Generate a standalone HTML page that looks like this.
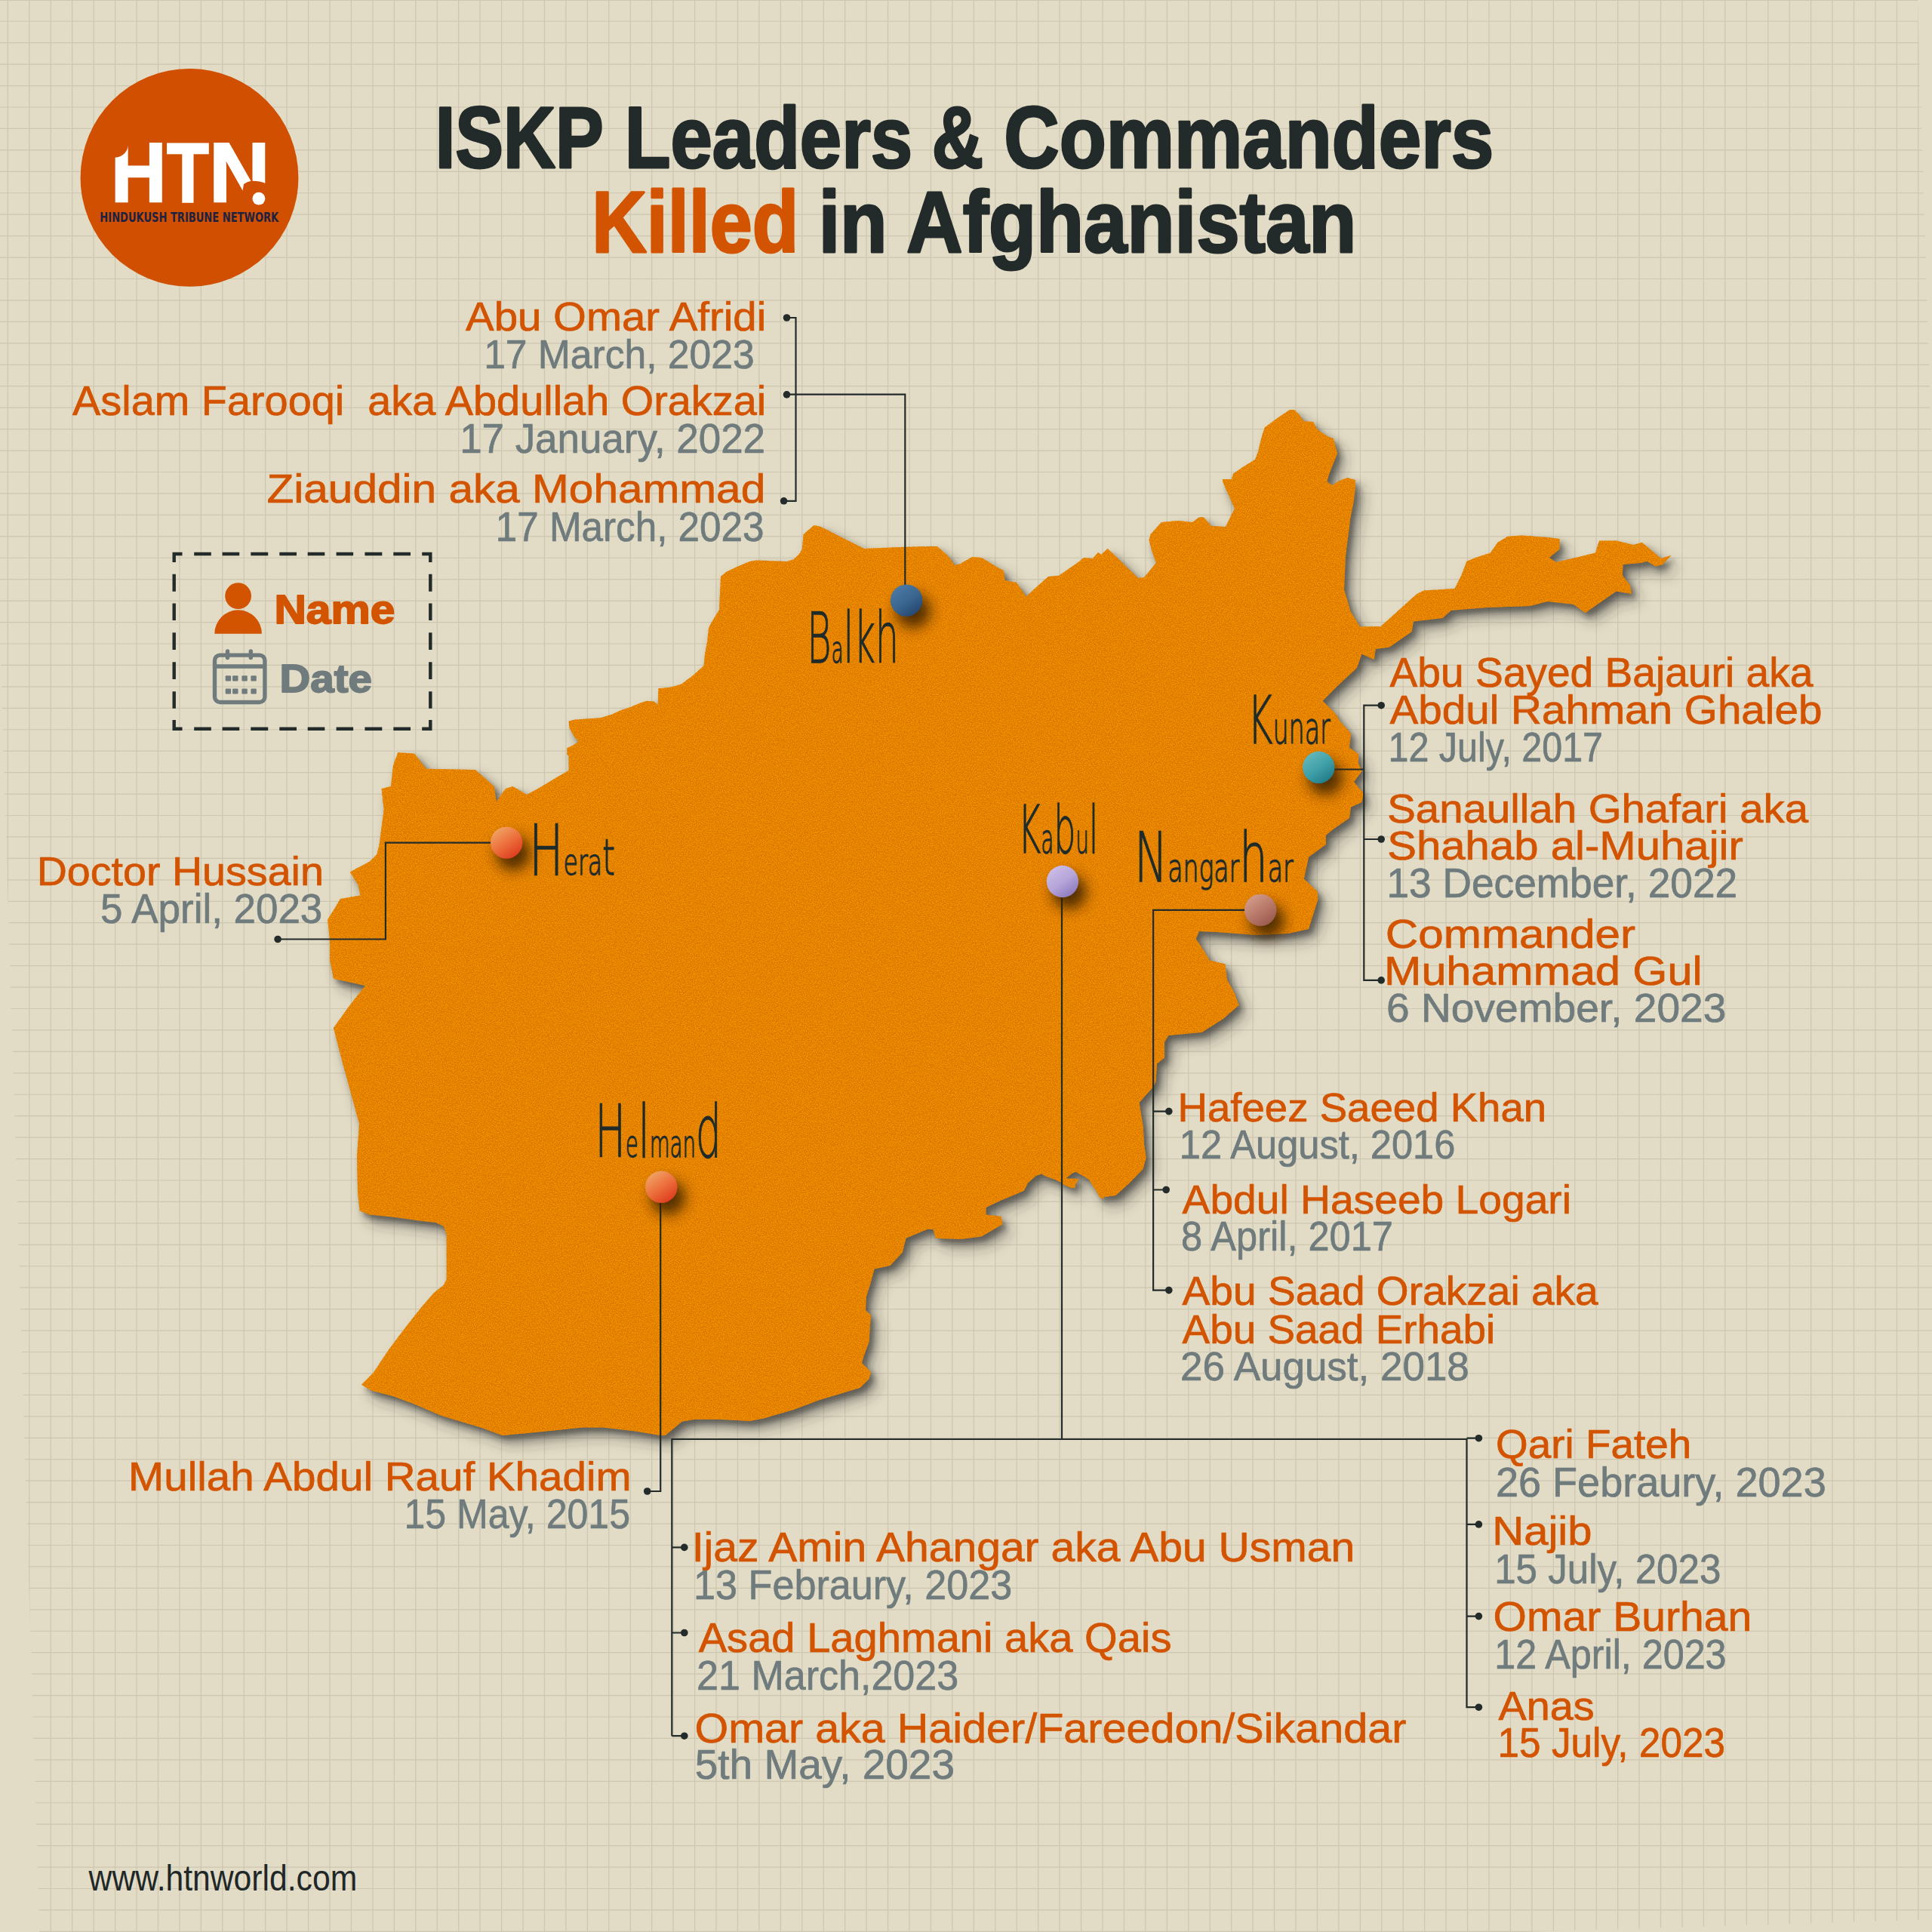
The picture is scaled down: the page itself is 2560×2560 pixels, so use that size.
<!DOCTYPE html>
<html><head><meta charset="utf-8"><title>ISKP Leaders &amp; Commanders Killed in Afghanistan</title>
<style>
html,body{margin:0;padding:0;background:#e2dbc5;}
body{width:2560px;height:2560px;overflow:hidden;}
svg{display:block;}
text{white-space:pre;}
</style></head><body>
<svg width="2560" height="2560" viewBox="0 0 2560 2560">
<defs>
<filter id="mapshadow" x="-5%" y="-5%" width="115%" height="115%">
  <feGaussianBlur stdDeviation="9"/>
</filter>
<filter id="mapshadow2" x="-5%" y="-5%" width="115%" height="115%">
  <feGaussianBlur stdDeviation="3.5"/>
</filter>
<filter id="pinshadow" x="-100%" y="-100%" width="300%" height="300%">
  <feGaussianBlur stdDeviation="9"/>
</filter>
<filter id="tex" x="0" y="0" width="100%" height="100%" filterUnits="objectBoundingBox" color-interpolation-filters="sRGB">
  <feTurbulence type="fractalNoise" baseFrequency="0.7" numOctaves="2" seed="7" result="n"/>
  <feColorMatrix in="n" type="matrix" values="0 0 0 0 0.85  0 0 0 0 0.475  0 0 0 0 0.0  5 0 0 0 -2.0" result="sp"/>
  <feComposite in="sp" in2="SourceGraphic" operator="in" result="sp2"/>
  <feMerge><feMergeNode in="SourceGraphic"/><feMergeNode in="sp2"/></feMerge>
</filter>

<linearGradient id="g_balkh" x1="0.2" y1="0.1" x2="0.8" y2="0.95"><stop offset="0" stop-color="#4a78a3"/><stop offset="0.5" stop-color="#3a6690"/><stop offset="1" stop-color="#25466f"/></linearGradient>
<linearGradient id="g_herat" x1="0.2" y1="0.1" x2="0.8" y2="0.95"><stop offset="0" stop-color="#f0a062"/><stop offset="0.5" stop-color="#ec6e3c"/><stop offset="1" stop-color="#dc3a1c"/></linearGradient>
<linearGradient id="g_kabul" x1="0.2" y1="0.1" x2="0.8" y2="0.95"><stop offset="0" stop-color="#cabbe6"/><stop offset="0.5" stop-color="#b5a5d9"/><stop offset="1" stop-color="#8c78bd"/></linearGradient>
<linearGradient id="g_nang" x1="0.2" y1="0.1" x2="0.8" y2="0.95"><stop offset="0" stop-color="#d09a86"/><stop offset="0.5" stop-color="#b9796a"/><stop offset="1" stop-color="#985a4e"/></linearGradient>
<linearGradient id="g_kunar" x1="0.2" y1="0.1" x2="0.8" y2="0.95"><stop offset="0" stop-color="#62b6b8"/><stop offset="0.5" stop-color="#40a0a8"/><stop offset="1" stop-color="#1f7a88"/></linearGradient>
<linearGradient id="g_helmand" x1="0.2" y1="0.1" x2="0.8" y2="0.95"><stop offset="0" stop-color="#f0a062"/><stop offset="0.5" stop-color="#ec6e3c"/><stop offset="1" stop-color="#dc3a1c"/></linearGradient>
</defs>
<rect x="0" y="0" width="2560" height="2560" fill="#e2dbc5"/>
<clipPath id="paper"><polygon points="-27.6,-60 2539.1,-60 2619.8,2542 54.1,2618.9"/></clipPath>
<path d="M10.35,0V2560 M38.79,0V2560 M67.24,0V2560 M95.68,0V2560 M124.13,0V2560 M152.57,0V2560 M181.01,0V2560 M209.46,0V2560 M237.90,0V2560 M266.35,0V2560 M294.79,0V2560 M323.23,0V2560 M351.68,0V2560 M380.12,0V2560 M408.57,0V2560 M437.01,0V2560 M465.45,0V2560 M493.90,0V2560 M522.34,0V2560 M550.79,0V2560 M579.23,0V2560 M607.67,0V2560 M636.12,0V2560 M664.56,0V2560 M693.01,0V2560 M721.45,0V2560 M749.89,0V2560 M778.34,0V2560 M806.78,0V2560 M835.23,0V2560 M863.67,0V2560 M892.11,0V2560 M920.56,0V2560 M949.00,0V2560 M977.45,0V2560 M1005.89,0V2560 M1034.33,0V2560 M1062.78,0V2560 M1091.22,0V2560 M1119.67,0V2560 M1148.11,0V2560 M1176.55,0V2560 M1205.00,0V2560 M1233.44,0V2560 M1261.89,0V2560 M1290.33,0V2560 M1318.77,0V2560 M1347.22,0V2560 M1375.66,0V2560 M1404.11,0V2560 M1432.55,0V2560 M1460.99,0V2560 M1489.44,0V2560 M1517.88,0V2560 M1546.33,0V2560 M1574.77,0V2560 M1603.21,0V2560 M1631.66,0V2560 M1660.10,0V2560 M1688.55,0V2560 M1716.99,0V2560 M1745.43,0V2560 M1773.88,0V2560 M1802.32,0V2560 M1830.77,0V2560 M1859.21,0V2560 M1887.65,0V2560 M1916.10,0V2560 M1944.54,0V2560 M1972.99,0V2560 M2001.43,0V2560 M2029.87,0V2560 M2058.32,0V2560 M2086.76,0V2560 M2115.21,0V2560 M2143.65,0V2560 M2172.09,0V2560 M2200.54,0V2560 M2228.98,0V2560 M2257.43,0V2560 M2285.87,0V2560 M2314.31,0V2560 M2342.76,0V2560 M2371.20,0V2560 M2399.65,0V2560 M2428.09,0V2560 M2456.53,0V2560 M2484.98,0V2560 M2513.42,0V2560 M2541.87,0V2560 M0,0.30H2560 M0,28.24H2560 M0,56.68H2560 M0,85.12H2560 M0,113.56H2560 M0,142.00H2560 M0,170.44H2560 M0,198.88H2560 M0,227.32H2560 M0,255.76H2560 M0,284.20H2560 M0,312.64H2560 M0,341.08H2560 M0,369.52H2560 M0,397.96H2560 M0,426.40H2560 M0,454.84H2560 M0,483.28H2560 M0,511.72H2560 M0,540.16H2560 M0,568.60H2560 M0,597.04H2560 M0,625.48H2560 M0,653.92H2560 M0,682.36H2560 M0,710.80H2560 M0,739.24H2560 M0,767.68H2560 M0,796.12H2560 M0,824.56H2560 M0,853.00H2560 M0,881.44H2560 M0,909.88H2560 M0,938.32H2560 M0,966.76H2560 M0,995.20H2560 M0,1023.64H2560 M0,1052.08H2560 M0,1080.52H2560 M0,1108.96H2560 M0,1137.40H2560 M0,1165.84H2560 M0,1194.28H2560 M0,1222.72H2560 M0,1251.16H2560 M0,1279.60H2560 M0,1308.04H2560 M0,1336.48H2560 M0,1364.92H2560 M0,1393.36H2560 M0,1421.80H2560 M0,1450.24H2560 M0,1478.68H2560 M0,1507.12H2560 M0,1535.56H2560 M0,1564.00H2560 M0,1592.44H2560 M0,1620.88H2560 M0,1649.32H2560 M0,1677.76H2560 M0,1706.20H2560 M0,1734.64H2560 M0,1763.08H2560 M0,1791.52H2560 M0,1819.96H2560 M0,1848.40H2560 M0,1876.84H2560 M0,1905.28H2560 M0,1933.72H2560 M0,1962.16H2560 M0,1990.60H2560 M0,2019.04H2560 M0,2047.48H2560 M0,2075.92H2560 M0,2104.36H2560 M0,2132.80H2560 M0,2161.24H2560 M0,2189.68H2560 M0,2218.12H2560 M0,2246.56H2560 M0,2275.00H2560 M0,2303.44H2560 M0,2331.88H2560 M0,2360.32H2560 M0,2388.76H2560 M0,2417.20H2560 M0,2445.64H2560 M0,2474.08H2560 M0,2502.52H2560 M0,2530.96H2560 M0,2559.40H2560" stroke="#cdc6b0" stroke-width="1.2" fill="none" clip-path="url(#paper)"/>
<path d="M479.0,1834.7 L494.7,1819.0 L515.4,1788.0 L538.7,1757.0 L559.4,1731.0 L575.0,1713.0 L587.9,1702.7 L591.7,1695.0 L591.7,1635.4 L588.0,1625.0 L577.5,1620.0 L554.0,1617.3 L528.0,1613.4 L489.5,1609.5 L476.6,1604.3 L474.0,1580.0 L473.0,1532.8 L476.0,1489.0 L466.8,1455.0 L454.0,1408.6 L442.0,1362.0 L462.0,1334.0 L484.0,1306.0 L442.0,1296.8 L437.0,1272.0 L437.0,1244.0 L434.0,1219.0 L451.0,1191.0 L477.6,1186.5 L474.5,1172.5 L463.7,1155.5 L490.0,1141.5 L499.4,1132.0 L502.5,1119.8 L507.0,1085.6 L508.7,1073.0 L505.6,1045.0 L518.0,1042.0 L521.0,1014.0 L527.3,997.0 L549.0,998.6 L564.6,1018.8 L629.8,1020.0 L654.7,1042.0 L657.8,1062.3 L670.0,1045.0 L679.5,1042.0 L698.0,1053.0 L714.5,1044.0 L736.2,1031.0 L753.6,1020.9 L753.6,1001.3 L751.4,1000.0 L751.4,991.0 L759.4,987.5 L766.7,982.5 L760.9,976.0 L754.3,964.3 L753.6,955.7 L762.3,953.5 L795.7,951.3 L810.0,947.0 L823.0,941.0 L836.0,936.8 L847.8,931.7 L856.5,928.8 L866.7,929.6 L871.7,934.0 L872.5,912.2 L888.4,910.7 L902.9,906.4 L918.6,894.7 L932.6,882.0 L934.0,867.0 L937.0,851.0 L939.0,832.5 L942.0,826.0 L953.0,808.0 L955.0,764.0 L962.0,758.0 L974.5,752.0 L993.0,744.0 L1002.5,742.5 L1043.0,744.0 L1052.0,741.0 L1060.0,733.0 L1063.0,727.0 L1064.6,708.0 L1078.6,696.0 L1086.0,697.5 L1095.7,702.0 L1117.0,713.0 L1133.0,721.0 L1145.0,727.0 L1192.0,725.0 L1231.0,724.0 L1241.6,724.0 L1255.6,736.0 L1265.0,749.0 L1272.7,747.0 L1288.0,738.0 L1300.6,739.0 L1322.0,752.0 L1330.0,756.0 L1331.7,769.0 L1347.0,772.0 L1359.6,790.6 L1375.0,776.6 L1389.0,764.0 L1403.0,762.7 L1428.0,745.6 L1436.0,739.0 L1448.0,740.0 L1455.0,732.0 L1459.0,735.0 L1467.6,727.0 L1474.0,733.0 L1508.0,766.0 L1516.0,765.0 L1532.0,745.7 L1526.6,731.0 L1522.5,715.7 L1524.5,708.0 L1539.0,692.0 L1561.0,690.0 L1580.0,692.0 L1588.7,685.6 L1595.0,685.6 L1605.0,697.0 L1624.0,698.0 L1632.0,681.5 L1636.0,674.0 L1632.0,665.0 L1620.0,638.0 L1620.0,635.0 L1632.0,635.0 L1634.0,627.7 L1646.7,619.0 L1663.0,609.0 L1667.0,598.7 L1671.5,580.0 L1675.7,566.6 L1694.0,553.0 L1709.0,543.0 L1715.0,543.0 L1721.0,549.0 L1727.4,558.0 L1740.0,559.0 L1746.0,569.7 L1760.6,579.0 L1766.8,581.0 L1772.0,600.7 L1760.6,629.7 L1758.5,638.0 L1764.7,643.0 L1775.0,637.0 L1785.4,633.0 L1795.8,636.0 L1795.8,646.0 L1793.7,665.0 L1789.5,685.6 L1783.0,737.0 L1781.0,781.0 L1789.5,810.0 L1802.0,830.6 L1829.6,830.0 L1877.4,787.0 L1886.5,782.5 L1927.5,780.0 L1936.6,762.0 L1943.5,743.8 L1955.0,739.0 L1975.0,732.4 L1984.5,718.7 L1998.0,710.7 L2016.0,709.6 L2050.5,712.0 L2066.5,714.0 L2066.5,727.8 L2052.8,739.0 L2062.0,745.0 L2096.0,737.0 L2114.0,732.4 L2119.0,716.4 L2141.6,716.4 L2164.4,722.0 L2175.8,718.7 L2200.8,740.0 L2214.5,735.8 L2203.0,748.0 L2194.0,750.6 L2182.6,743.8 L2173.5,746.0 L2150.7,748.0 L2149.6,762.0 L2159.8,775.6 L2162.0,787.0 L2141.6,783.6 L2100.6,812.0 L2084.7,800.7 L2050.5,797.0 L2027.7,803.0 L1970.8,805.0 L1923.0,808.7 L1911.6,819.0 L1872.9,823.5 L1870.6,837.0 L1841.0,857.6 L1822.8,860.0 L1820.6,874.0 L1804.4,866.6 L1798.0,885.0 L1769.0,912.0 L1752.6,928.7 L1769.0,945.0 L1775.4,955.6 L1790.0,972.0 L1788.0,990.8 L1800.0,999.0 L1800.0,1011.5 L1804.4,1022.0 L1794.0,1036.0 L1806.5,1051.0 L1804.4,1063.0 L1790.0,1069.5 L1788.0,1084.0 L1767.0,1098.5 L1756.8,1106.8 L1756.8,1119.0 L1734.0,1135.8 L1727.8,1164.8 L1745.4,1181.0 L1746.4,1191.7 L1738.0,1218.6 L1734.0,1231.0 L1707.0,1237.0 L1665.7,1239.0 L1611.8,1235.0 L1589.0,1234.0 L1584.6,1244.0 L1595.0,1259.5 L1602.7,1272.4 L1623.4,1277.6 L1626.0,1298.0 L1636.0,1316.4 L1641.5,1332.0 L1620.8,1350.0 L1592.4,1368.0 L1548.4,1372.0 L1543.0,1381.0 L1543.0,1401.8 L1533.0,1409.6 L1531.6,1432.9 L1527.7,1440.6 L1509.6,1461.0 L1514.7,1492.4 L1516.0,1515.7 L1518.6,1533.8 L1514.7,1549.0 L1496.6,1567.4 L1478.5,1584.0 L1462.8,1586.0 L1461.8,1588.5 L1457.6,1587.0 L1453.5,1579.7 L1448.3,1571.4 L1443.1,1563.1 L1436.9,1559.0 L1431.2,1556.0 L1425.5,1552.8 L1420.4,1554.8 L1417.3,1557.4 L1413.1,1560.5 L1413.1,1561.6 L1428.7,1562.1 L1428.7,1563.6 L1425.0,1569.3 L1424.5,1574.0 L1419.3,1574.0 L1412.1,1571.0 L1409.0,1569.3 L1405.9,1566.7 L1398.1,1563.1 L1386.2,1559.0 L1380.0,1555.4 L1372.4,1558.3 L1362.0,1567.4 L1357.0,1577.7 L1338.8,1585.5 L1326.0,1590.7 L1306.5,1600.0 L1306.5,1609.4 L1326.3,1611.7 L1328.6,1622.0 L1300.6,1638.5 L1272.7,1642.0 L1240.0,1640.8 L1236.6,1629.0 L1228.4,1629.0 L1200.5,1640.8 L1195.8,1659.5 L1179.5,1677.0 L1158.6,1681.6 L1154.0,1699.0 L1148.0,1717.7 L1147.0,1736.0 L1154.0,1743.0 L1152.7,1759.6 L1151.6,1778.0 L1144.6,1797.0 L1142.0,1806.0 L1154.0,1818.0 L1151.6,1827.0 L1140.0,1838.8 L1109.6,1848.0 L1086.0,1855.0 L1051.4,1868.0 L1011.8,1879.6 L993.0,1883.0 L953.6,1880.8 L921.0,1880.8 L903.6,1883.8 L881.6,1902.0 L875.0,1902.0 L844.0,1896.8 L800.0,1891.6 L771.6,1891.6 L745.7,1894.2 L699.0,1899.0 L665.5,1902.0 L637.0,1891.6 L611.0,1883.8 L585.0,1876.0 L549.0,1860.6 L520.6,1850.0 L492.0,1842.4 Z" fill="#2e2e2a" fill-opacity="0.45" transform="translate(10,12)" filter="url(#mapshadow)"/>
<path d="M479.0,1834.7 L494.7,1819.0 L515.4,1788.0 L538.7,1757.0 L559.4,1731.0 L575.0,1713.0 L587.9,1702.7 L591.7,1695.0 L591.7,1635.4 L588.0,1625.0 L577.5,1620.0 L554.0,1617.3 L528.0,1613.4 L489.5,1609.5 L476.6,1604.3 L474.0,1580.0 L473.0,1532.8 L476.0,1489.0 L466.8,1455.0 L454.0,1408.6 L442.0,1362.0 L462.0,1334.0 L484.0,1306.0 L442.0,1296.8 L437.0,1272.0 L437.0,1244.0 L434.0,1219.0 L451.0,1191.0 L477.6,1186.5 L474.5,1172.5 L463.7,1155.5 L490.0,1141.5 L499.4,1132.0 L502.5,1119.8 L507.0,1085.6 L508.7,1073.0 L505.6,1045.0 L518.0,1042.0 L521.0,1014.0 L527.3,997.0 L549.0,998.6 L564.6,1018.8 L629.8,1020.0 L654.7,1042.0 L657.8,1062.3 L670.0,1045.0 L679.5,1042.0 L698.0,1053.0 L714.5,1044.0 L736.2,1031.0 L753.6,1020.9 L753.6,1001.3 L751.4,1000.0 L751.4,991.0 L759.4,987.5 L766.7,982.5 L760.9,976.0 L754.3,964.3 L753.6,955.7 L762.3,953.5 L795.7,951.3 L810.0,947.0 L823.0,941.0 L836.0,936.8 L847.8,931.7 L856.5,928.8 L866.7,929.6 L871.7,934.0 L872.5,912.2 L888.4,910.7 L902.9,906.4 L918.6,894.7 L932.6,882.0 L934.0,867.0 L937.0,851.0 L939.0,832.5 L942.0,826.0 L953.0,808.0 L955.0,764.0 L962.0,758.0 L974.5,752.0 L993.0,744.0 L1002.5,742.5 L1043.0,744.0 L1052.0,741.0 L1060.0,733.0 L1063.0,727.0 L1064.6,708.0 L1078.6,696.0 L1086.0,697.5 L1095.7,702.0 L1117.0,713.0 L1133.0,721.0 L1145.0,727.0 L1192.0,725.0 L1231.0,724.0 L1241.6,724.0 L1255.6,736.0 L1265.0,749.0 L1272.7,747.0 L1288.0,738.0 L1300.6,739.0 L1322.0,752.0 L1330.0,756.0 L1331.7,769.0 L1347.0,772.0 L1359.6,790.6 L1375.0,776.6 L1389.0,764.0 L1403.0,762.7 L1428.0,745.6 L1436.0,739.0 L1448.0,740.0 L1455.0,732.0 L1459.0,735.0 L1467.6,727.0 L1474.0,733.0 L1508.0,766.0 L1516.0,765.0 L1532.0,745.7 L1526.6,731.0 L1522.5,715.7 L1524.5,708.0 L1539.0,692.0 L1561.0,690.0 L1580.0,692.0 L1588.7,685.6 L1595.0,685.6 L1605.0,697.0 L1624.0,698.0 L1632.0,681.5 L1636.0,674.0 L1632.0,665.0 L1620.0,638.0 L1620.0,635.0 L1632.0,635.0 L1634.0,627.7 L1646.7,619.0 L1663.0,609.0 L1667.0,598.7 L1671.5,580.0 L1675.7,566.6 L1694.0,553.0 L1709.0,543.0 L1715.0,543.0 L1721.0,549.0 L1727.4,558.0 L1740.0,559.0 L1746.0,569.7 L1760.6,579.0 L1766.8,581.0 L1772.0,600.7 L1760.6,629.7 L1758.5,638.0 L1764.7,643.0 L1775.0,637.0 L1785.4,633.0 L1795.8,636.0 L1795.8,646.0 L1793.7,665.0 L1789.5,685.6 L1783.0,737.0 L1781.0,781.0 L1789.5,810.0 L1802.0,830.6 L1829.6,830.0 L1877.4,787.0 L1886.5,782.5 L1927.5,780.0 L1936.6,762.0 L1943.5,743.8 L1955.0,739.0 L1975.0,732.4 L1984.5,718.7 L1998.0,710.7 L2016.0,709.6 L2050.5,712.0 L2066.5,714.0 L2066.5,727.8 L2052.8,739.0 L2062.0,745.0 L2096.0,737.0 L2114.0,732.4 L2119.0,716.4 L2141.6,716.4 L2164.4,722.0 L2175.8,718.7 L2200.8,740.0 L2214.5,735.8 L2203.0,748.0 L2194.0,750.6 L2182.6,743.8 L2173.5,746.0 L2150.7,748.0 L2149.6,762.0 L2159.8,775.6 L2162.0,787.0 L2141.6,783.6 L2100.6,812.0 L2084.7,800.7 L2050.5,797.0 L2027.7,803.0 L1970.8,805.0 L1923.0,808.7 L1911.6,819.0 L1872.9,823.5 L1870.6,837.0 L1841.0,857.6 L1822.8,860.0 L1820.6,874.0 L1804.4,866.6 L1798.0,885.0 L1769.0,912.0 L1752.6,928.7 L1769.0,945.0 L1775.4,955.6 L1790.0,972.0 L1788.0,990.8 L1800.0,999.0 L1800.0,1011.5 L1804.4,1022.0 L1794.0,1036.0 L1806.5,1051.0 L1804.4,1063.0 L1790.0,1069.5 L1788.0,1084.0 L1767.0,1098.5 L1756.8,1106.8 L1756.8,1119.0 L1734.0,1135.8 L1727.8,1164.8 L1745.4,1181.0 L1746.4,1191.7 L1738.0,1218.6 L1734.0,1231.0 L1707.0,1237.0 L1665.7,1239.0 L1611.8,1235.0 L1589.0,1234.0 L1584.6,1244.0 L1595.0,1259.5 L1602.7,1272.4 L1623.4,1277.6 L1626.0,1298.0 L1636.0,1316.4 L1641.5,1332.0 L1620.8,1350.0 L1592.4,1368.0 L1548.4,1372.0 L1543.0,1381.0 L1543.0,1401.8 L1533.0,1409.6 L1531.6,1432.9 L1527.7,1440.6 L1509.6,1461.0 L1514.7,1492.4 L1516.0,1515.7 L1518.6,1533.8 L1514.7,1549.0 L1496.6,1567.4 L1478.5,1584.0 L1462.8,1586.0 L1461.8,1588.5 L1457.6,1587.0 L1453.5,1579.7 L1448.3,1571.4 L1443.1,1563.1 L1436.9,1559.0 L1431.2,1556.0 L1425.5,1552.8 L1420.4,1554.8 L1417.3,1557.4 L1413.1,1560.5 L1413.1,1561.6 L1428.7,1562.1 L1428.7,1563.6 L1425.0,1569.3 L1424.5,1574.0 L1419.3,1574.0 L1412.1,1571.0 L1409.0,1569.3 L1405.9,1566.7 L1398.1,1563.1 L1386.2,1559.0 L1380.0,1555.4 L1372.4,1558.3 L1362.0,1567.4 L1357.0,1577.7 L1338.8,1585.5 L1326.0,1590.7 L1306.5,1600.0 L1306.5,1609.4 L1326.3,1611.7 L1328.6,1622.0 L1300.6,1638.5 L1272.7,1642.0 L1240.0,1640.8 L1236.6,1629.0 L1228.4,1629.0 L1200.5,1640.8 L1195.8,1659.5 L1179.5,1677.0 L1158.6,1681.6 L1154.0,1699.0 L1148.0,1717.7 L1147.0,1736.0 L1154.0,1743.0 L1152.7,1759.6 L1151.6,1778.0 L1144.6,1797.0 L1142.0,1806.0 L1154.0,1818.0 L1151.6,1827.0 L1140.0,1838.8 L1109.6,1848.0 L1086.0,1855.0 L1051.4,1868.0 L1011.8,1879.6 L993.0,1883.0 L953.6,1880.8 L921.0,1880.8 L903.6,1883.8 L881.6,1902.0 L875.0,1902.0 L844.0,1896.8 L800.0,1891.6 L771.6,1891.6 L745.7,1894.2 L699.0,1899.0 L665.5,1902.0 L637.0,1891.6 L611.0,1883.8 L585.0,1876.0 L549.0,1860.6 L520.6,1850.0 L492.0,1842.4 Z" fill="#2e2e2a" fill-opacity="0.5" transform="translate(5,6)" filter="url(#mapshadow2)"/>
<path d="M479.0,1834.7 L494.7,1819.0 L515.4,1788.0 L538.7,1757.0 L559.4,1731.0 L575.0,1713.0 L587.9,1702.7 L591.7,1695.0 L591.7,1635.4 L588.0,1625.0 L577.5,1620.0 L554.0,1617.3 L528.0,1613.4 L489.5,1609.5 L476.6,1604.3 L474.0,1580.0 L473.0,1532.8 L476.0,1489.0 L466.8,1455.0 L454.0,1408.6 L442.0,1362.0 L462.0,1334.0 L484.0,1306.0 L442.0,1296.8 L437.0,1272.0 L437.0,1244.0 L434.0,1219.0 L451.0,1191.0 L477.6,1186.5 L474.5,1172.5 L463.7,1155.5 L490.0,1141.5 L499.4,1132.0 L502.5,1119.8 L507.0,1085.6 L508.7,1073.0 L505.6,1045.0 L518.0,1042.0 L521.0,1014.0 L527.3,997.0 L549.0,998.6 L564.6,1018.8 L629.8,1020.0 L654.7,1042.0 L657.8,1062.3 L670.0,1045.0 L679.5,1042.0 L698.0,1053.0 L714.5,1044.0 L736.2,1031.0 L753.6,1020.9 L753.6,1001.3 L751.4,1000.0 L751.4,991.0 L759.4,987.5 L766.7,982.5 L760.9,976.0 L754.3,964.3 L753.6,955.7 L762.3,953.5 L795.7,951.3 L810.0,947.0 L823.0,941.0 L836.0,936.8 L847.8,931.7 L856.5,928.8 L866.7,929.6 L871.7,934.0 L872.5,912.2 L888.4,910.7 L902.9,906.4 L918.6,894.7 L932.6,882.0 L934.0,867.0 L937.0,851.0 L939.0,832.5 L942.0,826.0 L953.0,808.0 L955.0,764.0 L962.0,758.0 L974.5,752.0 L993.0,744.0 L1002.5,742.5 L1043.0,744.0 L1052.0,741.0 L1060.0,733.0 L1063.0,727.0 L1064.6,708.0 L1078.6,696.0 L1086.0,697.5 L1095.7,702.0 L1117.0,713.0 L1133.0,721.0 L1145.0,727.0 L1192.0,725.0 L1231.0,724.0 L1241.6,724.0 L1255.6,736.0 L1265.0,749.0 L1272.7,747.0 L1288.0,738.0 L1300.6,739.0 L1322.0,752.0 L1330.0,756.0 L1331.7,769.0 L1347.0,772.0 L1359.6,790.6 L1375.0,776.6 L1389.0,764.0 L1403.0,762.7 L1428.0,745.6 L1436.0,739.0 L1448.0,740.0 L1455.0,732.0 L1459.0,735.0 L1467.6,727.0 L1474.0,733.0 L1508.0,766.0 L1516.0,765.0 L1532.0,745.7 L1526.6,731.0 L1522.5,715.7 L1524.5,708.0 L1539.0,692.0 L1561.0,690.0 L1580.0,692.0 L1588.7,685.6 L1595.0,685.6 L1605.0,697.0 L1624.0,698.0 L1632.0,681.5 L1636.0,674.0 L1632.0,665.0 L1620.0,638.0 L1620.0,635.0 L1632.0,635.0 L1634.0,627.7 L1646.7,619.0 L1663.0,609.0 L1667.0,598.7 L1671.5,580.0 L1675.7,566.6 L1694.0,553.0 L1709.0,543.0 L1715.0,543.0 L1721.0,549.0 L1727.4,558.0 L1740.0,559.0 L1746.0,569.7 L1760.6,579.0 L1766.8,581.0 L1772.0,600.7 L1760.6,629.7 L1758.5,638.0 L1764.7,643.0 L1775.0,637.0 L1785.4,633.0 L1795.8,636.0 L1795.8,646.0 L1793.7,665.0 L1789.5,685.6 L1783.0,737.0 L1781.0,781.0 L1789.5,810.0 L1802.0,830.6 L1829.6,830.0 L1877.4,787.0 L1886.5,782.5 L1927.5,780.0 L1936.6,762.0 L1943.5,743.8 L1955.0,739.0 L1975.0,732.4 L1984.5,718.7 L1998.0,710.7 L2016.0,709.6 L2050.5,712.0 L2066.5,714.0 L2066.5,727.8 L2052.8,739.0 L2062.0,745.0 L2096.0,737.0 L2114.0,732.4 L2119.0,716.4 L2141.6,716.4 L2164.4,722.0 L2175.8,718.7 L2200.8,740.0 L2214.5,735.8 L2203.0,748.0 L2194.0,750.6 L2182.6,743.8 L2173.5,746.0 L2150.7,748.0 L2149.6,762.0 L2159.8,775.6 L2162.0,787.0 L2141.6,783.6 L2100.6,812.0 L2084.7,800.7 L2050.5,797.0 L2027.7,803.0 L1970.8,805.0 L1923.0,808.7 L1911.6,819.0 L1872.9,823.5 L1870.6,837.0 L1841.0,857.6 L1822.8,860.0 L1820.6,874.0 L1804.4,866.6 L1798.0,885.0 L1769.0,912.0 L1752.6,928.7 L1769.0,945.0 L1775.4,955.6 L1790.0,972.0 L1788.0,990.8 L1800.0,999.0 L1800.0,1011.5 L1804.4,1022.0 L1794.0,1036.0 L1806.5,1051.0 L1804.4,1063.0 L1790.0,1069.5 L1788.0,1084.0 L1767.0,1098.5 L1756.8,1106.8 L1756.8,1119.0 L1734.0,1135.8 L1727.8,1164.8 L1745.4,1181.0 L1746.4,1191.7 L1738.0,1218.6 L1734.0,1231.0 L1707.0,1237.0 L1665.7,1239.0 L1611.8,1235.0 L1589.0,1234.0 L1584.6,1244.0 L1595.0,1259.5 L1602.7,1272.4 L1623.4,1277.6 L1626.0,1298.0 L1636.0,1316.4 L1641.5,1332.0 L1620.8,1350.0 L1592.4,1368.0 L1548.4,1372.0 L1543.0,1381.0 L1543.0,1401.8 L1533.0,1409.6 L1531.6,1432.9 L1527.7,1440.6 L1509.6,1461.0 L1514.7,1492.4 L1516.0,1515.7 L1518.6,1533.8 L1514.7,1549.0 L1496.6,1567.4 L1478.5,1584.0 L1462.8,1586.0 L1461.8,1588.5 L1457.6,1587.0 L1453.5,1579.7 L1448.3,1571.4 L1443.1,1563.1 L1436.9,1559.0 L1431.2,1556.0 L1425.5,1552.8 L1420.4,1554.8 L1417.3,1557.4 L1413.1,1560.5 L1413.1,1561.6 L1428.7,1562.1 L1428.7,1563.6 L1425.0,1569.3 L1424.5,1574.0 L1419.3,1574.0 L1412.1,1571.0 L1409.0,1569.3 L1405.9,1566.7 L1398.1,1563.1 L1386.2,1559.0 L1380.0,1555.4 L1372.4,1558.3 L1362.0,1567.4 L1357.0,1577.7 L1338.8,1585.5 L1326.0,1590.7 L1306.5,1600.0 L1306.5,1609.4 L1326.3,1611.7 L1328.6,1622.0 L1300.6,1638.5 L1272.7,1642.0 L1240.0,1640.8 L1236.6,1629.0 L1228.4,1629.0 L1200.5,1640.8 L1195.8,1659.5 L1179.5,1677.0 L1158.6,1681.6 L1154.0,1699.0 L1148.0,1717.7 L1147.0,1736.0 L1154.0,1743.0 L1152.7,1759.6 L1151.6,1778.0 L1144.6,1797.0 L1142.0,1806.0 L1154.0,1818.0 L1151.6,1827.0 L1140.0,1838.8 L1109.6,1848.0 L1086.0,1855.0 L1051.4,1868.0 L1011.8,1879.6 L993.0,1883.0 L953.6,1880.8 L921.0,1880.8 L903.6,1883.8 L881.6,1902.0 L875.0,1902.0 L844.0,1896.8 L800.0,1891.6 L771.6,1891.6 L745.7,1894.2 L699.0,1899.0 L665.5,1902.0 L637.0,1891.6 L611.0,1883.8 L585.0,1876.0 L549.0,1860.6 L520.6,1850.0 L492.0,1842.4 Z" fill="#f28e00" filter="url(#tex)"/>
<path d="M1042.5,421 H1054.5 V663.8 H1038.6 M1042.5,522.7 H1199.3 V790 M368.1,1244.5 H510.9 V1116.6 H671 M1747,1019.5 H1807.3 M1830.2,934.7 H1807.3 V1298.9 H1830.2 M1807.3,1112 H1830.2 M1670,1205.9 H1528.1 V1709.6 H1548.8 M1528.1,1472.6 H1548.8 M1528.1,1576.5 H1545.2 M1407,1168 V1906.5 M890.3,2300.2 V1907 H1943.5 V2262.2 H1959.4 M1943.5,1905.7 H1959.4 M1943.5,2019.9 H1959.4 M1943.5,2141.6 H1959.4 M890.3,2050.4 H906.8 M890.3,2163.5 H906.8 M890.3,2300.2 H906.8 M875.2,1572.8 V1976 H857.7" stroke="#232b2b" stroke-width="2.2" fill="none" stroke-linejoin="miter" stroke-linecap="butt"/>
<g fill="#232b2b"><circle cx="1042.5" cy="421" r="4.8"/><circle cx="1042.5" cy="522.9" r="4.8"/><circle cx="1038.6" cy="663.8" r="4.8"/><circle cx="368.1" cy="1244.5" r="4.8"/><circle cx="1830.2" cy="934.7" r="4.8"/><circle cx="1830.2" cy="1112" r="4.8"/><circle cx="1830.2" cy="1298.9" r="4.8"/><circle cx="1548.8" cy="1472.6" r="4.8"/><circle cx="1545.2" cy="1576.5" r="4.8"/><circle cx="1548.8" cy="1709.6" r="4.8"/><circle cx="1959.4" cy="1905.7" r="4.8"/><circle cx="1959.4" cy="2019.9" r="4.8"/><circle cx="1959.4" cy="2141.6" r="4.8"/><circle cx="1959.4" cy="2262.2" r="4.8"/><circle cx="906.8" cy="2050.4" r="4.8"/><circle cx="906.8" cy="2163.5" r="4.8"/><circle cx="906.8" cy="2300.2" r="4.8"/><circle cx="857.7" cy="1976" r="4.8"/></g>
<circle cx="1210.1" cy="809.6" r="23" fill="#3a1d00" fill-opacity="0.85" filter="url(#pinshadow)"/>
<circle cx="680.2" cy="1130.6" r="23" fill="#3a1d00" fill-opacity="0.85" filter="url(#pinshadow)"/>
<circle cx="1416.9" cy="1182" r="23" fill="#3a1d00" fill-opacity="0.85" filter="url(#pinshadow)"/>
<circle cx="1679.2" cy="1219.9" r="23" fill="#3a1d00" fill-opacity="0.85" filter="url(#pinshadow)"/>
<circle cx="1756.3" cy="1030.8" r="23" fill="#3a1d00" fill-opacity="0.85" filter="url(#pinshadow)"/>
<circle cx="885.3" cy="1586.8" r="23" fill="#3a1d00" fill-opacity="0.85" filter="url(#pinshadow)"/>
<circle cx="1201.1" cy="795.6" r="21.2" fill="url(#g_balkh)"/>
<circle cx="671.2" cy="1116.6" r="21.2" fill="url(#g_herat)"/>
<circle cx="1407.9" cy="1168" r="21.2" fill="url(#g_kabul)"/>
<circle cx="1670.2" cy="1205.9" r="21.2" fill="url(#g_nang)"/>
<circle cx="1747.3" cy="1016.8" r="21.2" fill="url(#g_kunar)"/>
<circle cx="876.3" cy="1572.8" r="21.2" fill="url(#g_helmand)"/>
<path d="M230.7,745 V734 H241.5 M257.2,734 H279.8 M257.2,965.7 H279.8 M294.6,734 H317.2 M294.6,965.7 H317.2 M332.3,734 H355.2 M332.3,965.7 H355.2 M370.3,734 H393 M370.3,965.7 H393 M407.7,734 H430.3 M407.7,965.7 H430.3 M445.6,734 H468.1 M445.6,965.7 H468.1 M483.4,734 H506.3 M483.4,965.7 H506.3 M521.3,734 H544 M521.3,965.7 H544 M559.2,734 H570.3 V745 M230.7,954 V965.7 H241.5 M559.2,965.7 H570.3 V954 M230.7,760.7 V783.8 M570.3,760.7 V783.8 M230.7,799.5 V822.1 M570.3,799.5 V822.1 M230.7,838.2 V861 M570.3,838.2 V861 M230.7,877.2 V900 M570.3,877.2 V900 M230.7,916.2 V938.7 M570.3,916.2 V938.7" stroke="#232b2b" stroke-width="4.4" fill="none" stroke-linecap="butt"/>
<circle cx="315.6" cy="789.7" r="17.4" fill="#d35400"/>
<path d="M284.3,839.8 A31.3,31.5 0 0 1 346.9,839.8 Z" fill="#d35400"/>
<g stroke="#6f7b7c" fill="none" stroke-width="5.4"><rect x="284.5" y="868.1" width="66.4" height="62.4" rx="7"/><path d="M284.5,883 H350.9"/></g>
<g stroke="#6f7b7c" stroke-width="5.4" stroke-linecap="round"><path d="M301.5,863 V871.5 M332.3,863 V871.5"/></g>
<g fill="#6f7b7c"><rect x="298.7" y="895.1999999999999" width="7.4" height="7.2" rx="1"/><rect x="308.1" y="895.1999999999999" width="7.4" height="7.2" rx="1"/><rect x="320.40000000000003" y="895.1999999999999" width="7.4" height="7.2" rx="1"/><rect x="332.40000000000003" y="895.1999999999999" width="7.4" height="7.2" rx="1"/><rect x="298.7" y="912.4" width="7.4" height="7.2" rx="1"/><rect x="308.1" y="912.4" width="7.4" height="7.2" rx="1"/><rect x="320.40000000000003" y="912.4" width="7.4" height="7.2" rx="1"/><rect x="332.40000000000003" y="912.4" width="7.4" height="7.2" rx="1"/></g>
<circle cx="251" cy="235.3" r="144.4" fill="#d04f00"/>
<text x="146.88" y="267.10" font-family="'Liberation Sans', sans-serif" font-weight="700" font-size="111.19" fill="#ffffff" textLength="73.57" lengthAdjust="spacingAndGlyphs" stroke="#ffffff" stroke-width="2.4">H</text>
<text x="220.89" y="267.10" font-family="'Liberation Sans', sans-serif" font-weight="700" font-size="111.19" fill="#ffffff" textLength="55.81" lengthAdjust="spacingAndGlyphs" stroke="#ffffff" stroke-width="2.4">T</text>
<text x="277.05" y="267.10" font-family="'Liberation Sans', sans-serif" font-weight="700" font-size="111.19" fill="#ffffff" textLength="80.54" lengthAdjust="spacingAndGlyphs" stroke="#ffffff" stroke-width="2.4">N</text>
<path d="M149,186 H170.4 V189.4 Q169,207 152.3,208.8 H149 Z" fill="#d04f00"/>
<path d="M323,244 Q333,236 352,243 L352,272 L318,272 Z" fill="#d04f00"/>
<circle cx="342.9" cy="263.2" r="8.4" fill="#ffffff"/>
<text x="132.34" y="293.70" font-family="'DejaVu Sans', sans-serif" font-weight="700" font-size="17.83" fill="#1e2240" textLength="236.88" lengthAdjust="spacingAndGlyphs">HINDUKUSH TRIBUNE NETWORK</text>
<text x="576.79" y="222.10" font-family="'Liberation Sans', sans-serif" font-weight="700" font-size="114.68" fill="#222a2a" textLength="223.07" lengthAdjust="spacingAndGlyphs" stroke="#222a2a" stroke-width="3" stroke-linejoin="round">ISKP</text>
<text x="827.84" y="222.10" font-family="'Liberation Sans', sans-serif" font-weight="700" font-size="114.68" fill="#222a2a" textLength="381.29" lengthAdjust="spacingAndGlyphs" stroke="#222a2a" stroke-width="3" stroke-linejoin="round">Leaders</text>
<text x="1234.64" y="222.10" font-family="'Liberation Sans', sans-serif" font-weight="700" font-size="114.68" fill="#222a2a" textLength="68.30" lengthAdjust="spacingAndGlyphs" stroke="#222a2a" stroke-width="3" stroke-linejoin="round">&amp;</text>
<text x="1330.34" y="222.10" font-family="'Liberation Sans', sans-serif" font-weight="700" font-size="114.68" fill="#222a2a" textLength="648.79" lengthAdjust="spacingAndGlyphs" stroke="#222a2a" stroke-width="3" stroke-linejoin="round">Commanders</text>
<text x="784.15" y="333.80" font-family="'Liberation Sans', sans-serif" font-weight="700" font-size="115.41" fill="#d35400" textLength="274.16" lengthAdjust="spacingAndGlyphs" stroke="#d35400" stroke-width="3" stroke-linejoin="round">Killed</text>
<text x="1084.63" y="333.80" font-family="'Liberation Sans', sans-serif" font-weight="700" font-size="115.41" fill="#222a2a" textLength="90.97" lengthAdjust="spacingAndGlyphs" stroke="#222a2a" stroke-width="3" stroke-linejoin="round">in</text>
<text x="1201.12" y="333.80" font-family="'Liberation Sans', sans-serif" font-weight="700" font-size="115.41" fill="#222a2a" textLength="596.29" lengthAdjust="spacingAndGlyphs" stroke="#222a2a" stroke-width="3" stroke-linejoin="round">Afghanistan</text>
<text x="617.00" y="437.60" font-family="'Liberation Sans', sans-serif" font-weight="400" font-size="53.63" fill="#d35400" textLength="398.26" lengthAdjust="spacingAndGlyphs" stroke="#d35400" stroke-width="0.7">Abu Omar Afridi</text>
<text x="641.13" y="487.60" font-family="'Liberation Sans', sans-serif" font-weight="400" font-size="53.92" fill="#6f7b7c" textLength="358.48" lengthAdjust="spacingAndGlyphs" stroke="#6f7b7c" stroke-width="0.7">17 March, 2023</text>
<text x="96.10" y="549.70" font-family="'Liberation Sans', sans-serif" font-weight="400" font-size="55.96" fill="#d35400" textLength="919.11" lengthAdjust="spacingAndGlyphs" stroke="#d35400" stroke-width="0.7">Aslam Farooqi  aka Abdullah Orakzai</text>
<text x="609.13" y="599.50" font-family="'Liberation Sans', sans-serif" font-weight="400" font-size="55.23" fill="#6f7b7c" textLength="404.86" lengthAdjust="spacingAndGlyphs" stroke="#6f7b7c" stroke-width="0.7">17 January, 2022</text>
<text x="353.54" y="666.40" font-family="'Liberation Sans', sans-serif" font-weight="400" font-size="54.07" fill="#d35400" textLength="660.71" lengthAdjust="spacingAndGlyphs" stroke="#d35400" stroke-width="0.7">Ziauddin aka Mohammad</text>
<text x="656.76" y="716.50" font-family="'Liberation Sans', sans-serif" font-weight="400" font-size="55.23" fill="#6f7b7c" textLength="355.73" lengthAdjust="spacingAndGlyphs" stroke="#6f7b7c" stroke-width="0.7">17 March, 2023</text>
<text x="48.65" y="1172.60" font-family="'Liberation Sans', sans-serif" font-weight="400" font-size="54.36" fill="#d35400" textLength="380.23" lengthAdjust="spacingAndGlyphs" stroke="#d35400" stroke-width="0.7">Doctor Hussain</text>
<text x="133.08" y="1222.60" font-family="'Liberation Sans', sans-serif" font-weight="400" font-size="55.67" fill="#6f7b7c" textLength="294.22" lengthAdjust="spacingAndGlyphs" stroke="#6f7b7c" stroke-width="0.7">5 April, 2023</text>
<text x="1841.50" y="909.80" font-family="'Liberation Sans', sans-serif" font-weight="400" font-size="54.65" fill="#d35400" textLength="560.93" lengthAdjust="spacingAndGlyphs" stroke="#d35400" stroke-width="0.7">Abu Sayed Bajauri aka</text>
<text x="1841.50" y="958.60" font-family="'Liberation Sans', sans-serif" font-weight="400" font-size="53.92" fill="#d35400" textLength="572.93" lengthAdjust="spacingAndGlyphs" stroke="#d35400" stroke-width="0.7">Abdul Rahman Ghaleb</text>
<text x="1839.57" y="1008.90" font-family="'Liberation Sans', sans-serif" font-weight="400" font-size="55.67" fill="#6f7b7c" textLength="284.43" lengthAdjust="spacingAndGlyphs" stroke="#6f7b7c" stroke-width="0.7">12 July, 2017</text>
<text x="1838.26" y="1089.80" font-family="'Liberation Sans', sans-serif" font-weight="400" font-size="54.22" fill="#d35400" textLength="557.78" lengthAdjust="spacingAndGlyphs" stroke="#d35400" stroke-width="0.7">Sanaullah Ghafari aka</text>
<text x="1838.18" y="1138.60" font-family="'Liberation Sans', sans-serif" font-weight="400" font-size="53.92" fill="#d35400" textLength="471.65" lengthAdjust="spacingAndGlyphs" stroke="#d35400" stroke-width="0.7">Shahab al-Muhajir</text>
<text x="1837.51" y="1188.90" font-family="'Liberation Sans', sans-serif" font-weight="400" font-size="54.65" fill="#6f7b7c" textLength="464.63" lengthAdjust="spacingAndGlyphs" stroke="#6f7b7c" stroke-width="0.7">13 December, 2022</text>
<text x="1835.79" y="1255.50" font-family="'Liberation Sans', sans-serif" font-weight="400" font-size="53.78" fill="#d35400" textLength="331.24" lengthAdjust="spacingAndGlyphs" stroke="#d35400" stroke-width="0.7">Commander</text>
<text x="1834.06" y="1305.00" font-family="'Liberation Sans', sans-serif" font-weight="400" font-size="53.78" fill="#d35400" textLength="421.53" lengthAdjust="spacingAndGlyphs" stroke="#d35400" stroke-width="0.7">Muhammad Gul</text>
<text x="1837.05" y="1353.90" font-family="'Liberation Sans', sans-serif" font-weight="400" font-size="54.36" fill="#6f7b7c" textLength="450.28" lengthAdjust="spacingAndGlyphs" stroke="#6f7b7c" stroke-width="0.7">6 November, 2023</text>
<text x="1560.53" y="1485.60" font-family="'Liberation Sans', sans-serif" font-weight="400" font-size="53.20" fill="#d35400" textLength="488.69" lengthAdjust="spacingAndGlyphs" stroke="#d35400" stroke-width="0.7">Hafeez Saeed Khan</text>
<text x="1562.81" y="1534.50" font-family="'Liberation Sans', sans-serif" font-weight="400" font-size="53.78" fill="#6f7b7c" textLength="365.55" lengthAdjust="spacingAndGlyphs" stroke="#6f7b7c" stroke-width="0.7">12 August, 2016</text>
<text x="1566.60" y="1607.90" font-family="'Liberation Sans', sans-serif" font-weight="400" font-size="54.22" fill="#d35400" textLength="515.40" lengthAdjust="spacingAndGlyphs" stroke="#d35400" stroke-width="0.7">Abdul Haseeb Logari</text>
<text x="1565.03" y="1657.40" font-family="'Liberation Sans', sans-serif" font-weight="400" font-size="55.09" fill="#6f7b7c" textLength="280.89" lengthAdjust="spacingAndGlyphs" stroke="#6f7b7c" stroke-width="0.7">8 April, 2017</text>
<text x="1566.60" y="1729.20" font-family="'Liberation Sans', sans-serif" font-weight="400" font-size="53.78" fill="#d35400" textLength="551.16" lengthAdjust="spacingAndGlyphs" stroke="#d35400" stroke-width="0.7">Abu Saad Orakzai aka</text>
<text x="1566.60" y="1779.80" font-family="'Liberation Sans', sans-serif" font-weight="400" font-size="53.63" fill="#d35400" textLength="414.64" lengthAdjust="spacingAndGlyphs" stroke="#d35400" stroke-width="0.7">Abu Saad Erhabi</text>
<text x="1563.95" y="1828.90" font-family="'Liberation Sans', sans-serif" font-weight="400" font-size="54.36" fill="#6f7b7c" textLength="382.90" lengthAdjust="spacingAndGlyphs" stroke="#6f7b7c" stroke-width="0.7">26 August, 2018</text>
<text x="1982.13" y="1932.30" font-family="'Liberation Sans', sans-serif" font-weight="400" font-size="53.49" fill="#d35400" textLength="259.09" lengthAdjust="spacingAndGlyphs" stroke="#d35400" stroke-width="0.7">Qari Fateh</text>
<text x="1981.90" y="1982.50" font-family="'Liberation Sans', sans-serif" font-weight="400" font-size="54.65" fill="#6f7b7c" textLength="437.82" lengthAdjust="spacingAndGlyphs" stroke="#6f7b7c" stroke-width="0.7">26 Febraury, 2023</text>
<text x="1977.36" y="2047.40" font-family="'Liberation Sans', sans-serif" font-weight="400" font-size="53.49" fill="#d35400" textLength="132.09" lengthAdjust="spacingAndGlyphs" stroke="#d35400" stroke-width="0.7">Najib</text>
<text x="1980.17" y="2097.50" font-family="'Liberation Sans', sans-serif" font-weight="400" font-size="54.65" fill="#6f7b7c" textLength="300.16" lengthAdjust="spacingAndGlyphs" stroke="#6f7b7c" stroke-width="0.7">15 July, 2023</text>
<text x="1978.63" y="2161.30" font-family="'Liberation Sans', sans-serif" font-weight="400" font-size="54.80" fill="#d35400" textLength="342.63" lengthAdjust="spacingAndGlyphs" stroke="#d35400" stroke-width="0.7">Omar Burhan</text>
<text x="1980.23" y="2210.60" font-family="'Liberation Sans', sans-serif" font-weight="400" font-size="54.80" fill="#6f7b7c" textLength="307.33" lengthAdjust="spacingAndGlyphs" stroke="#6f7b7c" stroke-width="0.7">12 April, 2023</text>
<text x="1985.50" y="2278.70" font-family="'Liberation Sans', sans-serif" font-weight="400" font-size="53.49" fill="#d35400" textLength="127.12" lengthAdjust="spacingAndGlyphs" stroke="#d35400" stroke-width="0.7">Anas</text>
<text x="1984.55" y="2328.00" font-family="'Liberation Sans', sans-serif" font-weight="400" font-size="54.80" fill="#d35400" textLength="301.48" lengthAdjust="spacingAndGlyphs" stroke="#d35400" stroke-width="0.7">15 July, 2023</text>
<text x="916.77" y="2069.30" font-family="'Liberation Sans', sans-serif" font-weight="400" font-size="54.94" fill="#d35400" textLength="878.44" lengthAdjust="spacingAndGlyphs" stroke="#d35400" stroke-width="0.7">Ijaz Amin Ahangar aka Abu Usman</text>
<text x="919.09" y="2118.80" font-family="'Liberation Sans', sans-serif" font-weight="400" font-size="55.67" fill="#6f7b7c" textLength="422.15" lengthAdjust="spacingAndGlyphs" stroke="#6f7b7c" stroke-width="0.7">13 Febraury, 2023</text>
<text x="925.70" y="2188.80" font-family="'Liberation Sans', sans-serif" font-weight="400" font-size="54.94" fill="#d35400" textLength="626.78" lengthAdjust="spacingAndGlyphs" stroke="#d35400" stroke-width="0.7">Asad Laghmani aka Qais</text>
<text x="923.10" y="2238.80" font-family="'Liberation Sans', sans-serif" font-weight="400" font-size="54.94" fill="#6f7b7c" textLength="347.04" lengthAdjust="spacingAndGlyphs" stroke="#6f7b7c" stroke-width="0.7">21 March,2023</text>
<text x="920.41" y="2308.80" font-family="'Liberation Sans', sans-serif" font-weight="400" font-size="54.94" fill="#d35400" textLength="942.89" lengthAdjust="spacingAndGlyphs" stroke="#d35400" stroke-width="0.7">Omar aka Haider/Fareedon/Sikandar</text>
<text x="920.80" y="2357.00" font-family="'Liberation Sans', sans-serif" font-weight="400" font-size="55.23" fill="#6f7b7c" textLength="344.18" lengthAdjust="spacingAndGlyphs" stroke="#6f7b7c" stroke-width="0.7">5th May, 2023</text>
<text x="170.07" y="1974.70" font-family="'Liberation Sans', sans-serif" font-weight="400" font-size="54.07" fill="#d35400" textLength="666.61" lengthAdjust="spacingAndGlyphs" stroke="#d35400" stroke-width="0.7">Mullah Abdul Rauf Khadim</text>
<text x="535.45" y="2024.50" font-family="'Liberation Sans', sans-serif" font-weight="400" font-size="55.67" fill="#6f7b7c" textLength="299.58" lengthAdjust="spacingAndGlyphs" stroke="#6f7b7c" stroke-width="0.7">15 May, 2015</text>
<text x="363.48" y="825.50" font-family="'Liberation Sans', sans-serif" font-weight="700" font-size="52.76" fill="#d35400" textLength="159.89" lengthAdjust="spacingAndGlyphs" stroke="#d35400" stroke-width="1.8" stroke-linejoin="round">Name</text>
<text x="370.53" y="916.60" font-family="'Liberation Sans', sans-serif" font-weight="700" font-size="52.62" fill="#6f7b7c" textLength="122.39" lengthAdjust="spacingAndGlyphs" stroke="#6f7b7c" stroke-width="1.8" stroke-linejoin="round">Date</text>
<text x="117.60" y="2504.60" font-family="'Liberation Sans', sans-serif" font-weight="400" font-size="47.46" fill="#1f2828" textLength="355.61" lengthAdjust="spacingAndGlyphs">www.htnworld.com</text>
<text x="1069.25" y="878.00" font-family="'DejaVu Sans', sans-serif" font-weight="200" font-size="93.28" fill="#1f2b2b" stroke="#1f2b2b" stroke-width="1.3" textLength="121.89" lengthAdjust="spacingAndGlyphs"><tspan font-size="93.28">B</tspan><tspan font-size="49.36">a</tspan><tspan font-size="93.28">lkh</tspan></text>
<text x="701.08" y="1159.00" font-family="'DejaVu Sans', sans-serif" font-weight="200" font-size="91.91" fill="#1f2b2b" stroke="#1f2b2b" stroke-width="1.3" textLength="113.97" lengthAdjust="spacingAndGlyphs"><tspan font-size="91.91">H</tspan><tspan font-size="47.53">era</tspan><tspan font-size="66.17">t</tspan></text>
<text x="1349.08" y="1130.00" font-family="'DejaVu Sans', sans-serif" font-weight="200" font-size="87.79" fill="#1f2b2b" stroke="#1f2b2b" stroke-width="1.3" textLength="106.54" lengthAdjust="spacingAndGlyphs"><tspan font-size="87.79">K</tspan><tspan font-size="53.02">a</tspan><tspan font-size="87.79">b</tspan><tspan font-size="53.02">u</tspan><tspan font-size="87.79">l</tspan></text>
<text x="1503.11" y="1167.80" font-family="'DejaVu Sans', sans-serif" font-weight="200" font-size="91.50" fill="#1f2b2b" stroke="#1f2b2b" stroke-width="1.3" textLength="210.43" lengthAdjust="spacingAndGlyphs"><tspan font-size="91.50">N</tspan><tspan font-size="51.19">angar</tspan><tspan font-size="91.50">h</tspan><tspan font-size="51.19">ar</tspan></text>
<text x="1653.11" y="984.50" font-family="'DejaVu Sans', sans-serif" font-weight="200" font-size="86.97" fill="#1f2b2b" stroke="#1f2b2b" stroke-width="1.3" textLength="109.53" lengthAdjust="spacingAndGlyphs"><tspan font-size="86.97">K</tspan><tspan font-size="56.67">unar</tspan></text>
<text x="788.41" y="1533.00" font-family="'DejaVu Sans', sans-serif" font-weight="200" font-size="96.57" fill="#1f2b2b" stroke="#1f2b2b" stroke-width="1.3" textLength="167.57" lengthAdjust="spacingAndGlyphs"><tspan font-size="96.57">H</tspan><tspan font-size="49.36">e</tspan><tspan font-size="96.57">l</tspan><tspan font-size="49.36">man</tspan><tspan font-size="96.57">d</tspan></text>
</svg></body></html>
